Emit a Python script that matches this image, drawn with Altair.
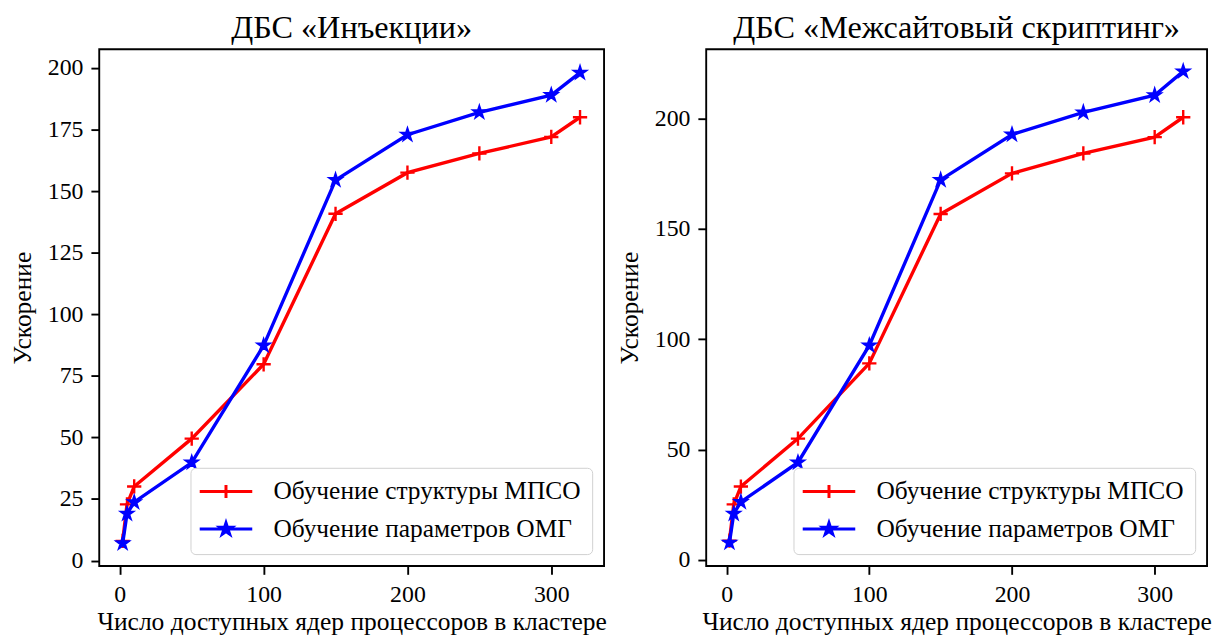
import math
import altair as alt
import pandas as pd

# ---------------- data ----------------
x_cores = [2, 5, 10, 50, 100, 150, 200, 250, 300, 320]
inj_mpso = [8.0, 22.8, 30.1, 49.5, 79.7, 140.8, 157.5, 165.3, 172.0, 180.0]
inj_omg = [7.0, 19.0, 23.7, 39.8, 87.3, 154.5, 172.9, 182.0, 189.0, 198.1]
xss_mpso = [8.8, 25.2, 33.3, 55.0, 89.1, 156.8, 175.2, 184.2, 191.6, 200.6]
xss_omg = [7.9, 21.0, 26.3, 44.2, 97.2, 172.2, 192.8, 202.8, 210.6, 221.4]

series_names = ["Обучение структуры МПСО", "Обучение параметров ОМГ"]
series_colors = ["#ff0000", "#0000ff"]
panel_titles = ["ДБС «Инъекции»", "ДБС «Межсайтовый скриптинг»"]
x_title = "Число доступных ядер процессоров в кластере"
y_title = "Ускорение"
x_ticks = [0, 100, 200, 300]
y_ticks_left = [0, 25, 50, 75, 100, 125, 150, 175, 200]
y_ticks_right = [0, 50, 100, 150, 200]

FONT = "Liberation Serif"


# ---------------- marker shapes (style) ----------------
def star_path(R, ratio=0.381966):
    pts = []
    for k in range(10):
        r = R if k % 2 == 0 else R * ratio
        a = math.radians(-90 + 36 * k)
        pts.append((r * math.cos(a), r * math.sin(a)))
    return "M" + "L".join(f"{px:.3f},{py:.3f}" for px, py in pts) + "Z"


PLUS = "M-1,0L1,0M0,-1L0,1"
STAR = star_path(1.0)
LEG_PLUS = "M-2.5,0L2.5,0M0,-0.62L0,0.62"
LEG_STAR = "M-2.5,0L2.5,0" + star_path(0.6) + star_path(0.38) + star_path(0.16)


def make_df(a, b):
    rows = []
    for name, vals in zip(series_names, [a, b]):
        for xv, yv in zip(x_cores, vals):
            rows.append({"x": xv, "y": yv, "series": name})
    return pd.DataFrame(rows)


def legend_def():
    return alt.Legend(
        title=None,
        orient="bottom-right",
        offset=12,
        symbolSize=449,
        symbolStrokeWidth=3,
        symbolOffset=12,
        labelOffset=35,
        labelFont=FONT,
        labelFontSize=25.6,
        labelColor="black",
        labelLimit=600,
        padding=11,
        rowPadding=11,
        fillColor="white",
        strokeColor="#d0d0d0",
        cornerRadius=5,
    )


def panel(a, b, title, yticks, ydom, width):
    df = make_df(a, b)
    xs = alt.Scale(domain=[-14.3, 336.7], nice=False, zero=False)
    ys = alt.Scale(domain=ydom, nice=False, zero=False)
    xenc = alt.X("x:Q", scale=xs, axis=alt.Axis(values=x_ticks, format="d", title=x_title))
    yenc = alt.Y("y:Q", scale=ys, axis=alt.Axis(values=yticks, format="d", title=y_title))
    base = alt.Chart(df)
    layers = []
    shapes = [PLUS, STAR]
    for i, name in enumerate(series_names):
        sub = base.transform_filter(alt.datum.series == name)
        layers.append(
            sub.mark_line(color=series_colors[i], strokeWidth=3.4).encode(x=xenc, y=yenc)
        )
        if i == 0:
            pts = sub.mark_point(shape=shapes[i], size=207, filled=False,
                                 color=series_colors[i], strokeWidth=2.4, opacity=1)
        else:
            pts = sub.mark_point(shape=shapes[i], size=165, filled=True,
                                 color=series_colors[i], stroke=series_colors[i],
                                 strokeWidth=2.0, opacity=1)
        layers.append(pts.encode(x=xenc, y=yenc))
    leg = base.transform_filter("false").mark_point(filled=False, strokeWidth=3, opacity=1).encode(
        x=xenc,
        y=yenc,
        color=alt.Color("series:N", scale=alt.Scale(domain=series_names, range=series_colors),
                        legend=legend_def()),
        shape=alt.Shape("series:N", scale=alt.Scale(domain=series_names, range=[LEG_PLUS, LEG_STAR]),
                        legend=legend_def()),
    )
    layers.append(leg)
    return alt.layer(*layers).properties(
        width=width, height=521, title=alt.TitleParams(text=title)
    )


left = panel(inj_mpso, inj_omg, panel_titles[0], y_ticks_left, [-2.2, 207.6], 509)
right = panel(xss_mpso, xss_omg, panel_titles[1], y_ticks_right, [-2.7, 231.4], 505)

chart = (
    alt.hconcat(left, right, spacing=7)
    .resolve_scale(color="independent", shape="independent")
    .resolve_legend(color="independent", shape="independent")
    .properties(padding={"left": 0, "top": 0, "right": 0, "bottom": 0})
    .configure_view(stroke="black", strokeWidth=1.9)
    .configure_axis(
        domain=False,
        grid=False,
        ticks=True,
        tickColor="black",
        tickWidth=1.9,
        tickSize=8.4,
        labelPadding=8,
        labelFont=FONT,
        labelFontSize=24,
        labelColor="black",
        titleFont=FONT,
        titleFontSize=25.7,
        titleFontWeight="normal",
        titleColor="black",
    )
    .configure_axisY(titlePadding=12)
    .configure_axisX(titlePadding=4)
    .configure_title(font=FONT, fontSize=32.5, fontWeight="normal", color="black", offset=5)
)

chart.save("out.html", embed_options={"renderer": "svg", "actions": False})
